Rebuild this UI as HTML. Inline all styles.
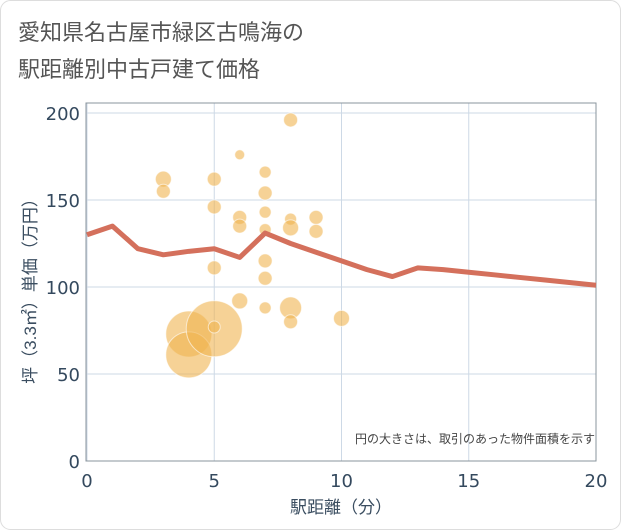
<!DOCTYPE html>
<html><head><meta charset="utf-8"><style>
body{margin:0;background:#fff;}
svg{display:block;font-family:"Liberation Sans","Noto Sans CJK JP",sans-serif;}
</style></head><body>
<svg id="c" width="621" height="530">
<rect x="0.5" y="0.5" width="620" height="529" rx="10" fill="#fff" stroke="#ddd"/>
<text x="18" y="40" font-size="22" fill="#555">愛知県名古屋市緑区古鳴海の</text>
<text x="18" y="77" font-size="22" fill="#555">駅距離別中古戸建て価格</text>
<g id="grid"></g><g id="pts"></g><g id="ln"></g><g id="ax"></g>
<text x="595" y="443" font-size="12" fill="#444" text-anchor="end">円の大きさは、取引のあった物件面積を示す</text>
<text x="341" y="513" font-size="17" fill="#3a4d60" text-anchor="middle">駅距離（分）</text>
<text transform="translate(36,287) rotate(-90)" font-size="17" fill="#3a4d60" text-anchor="middle">坪（3.3㎡）単価（万円）</text>
</svg>
<script>
const xTicks=[0,5,10,15,20];
const yTicks=[0,50,100,150,200];
const ptX=[3,3,5,5,5,4,4,5,5,6,6,6,6,7,7,7,7,7,7,7,8,8,8,8,8,9,9,10];
const ptY=[162,155,162,146,111,73,61,76,77,176,140,135,92,166,154,143,133,115,105,88,196,139,134,88,80,140,132,82];
const ptR=[8,7,7,7,7,23,23,28,6,5,7,7,8,6,7,6,6,7,7,6,7,6,8,11,7,7,7,8];
const lineX=[0,1,2,3,4,5,6,7,8,9,10,11,12,13,14,15,16,17,18,19,20];
const lineY=[130,135,122,118.5,120.5,122,117,131,125,120,115,110,106,111,110,108.5,107,105.5,104,102.5,101];
const X0=87,X1=596,Y0=461,Y1=113;
const sx=v=>X0+(v-0)/20*(X1-X0), sy=v=>Y0-(v/200)*(Y0-Y1);
const NS="http://www.w3.org/2000/svg";
function mk(p,t,a){const e=document.createElementNS(NS,t);for(const k in a)e.setAttribute(k,a[k]);document.getElementById(p).appendChild(e);return e;}
xTicks.forEach(v=>{const g=mk('grid','line',{x1:sx(v),x2:sx(v),y1:Y1-10,y2:Y0,stroke:'#cdd9e6','stroke-width':1});


const t=mk('ax','text',{x:sx(v),y:Y0+26,'font-size':18,fill:'#34495e','text-anchor':'middle','font-family':'"DejaVu Sans",sans-serif'});t.textContent=v;

});
yTicks.forEach(v=>{const g=mk('grid','line',{x1:X0,x2:X1,y1:sy(v),y2:sy(v),stroke:'#cdd9e6','stroke-width':1});


const t=mk('ax','text',{x:X0-7,y:sy(v)+7,'font-size':18,fill:'#34495e','text-anchor':'end','font-family':'"DejaVu Sans",sans-serif'});t.textContent=v;

});
const f=mk('grid','rect',{x:X0-1,y:Y1-10,width:X1-X0+1,height:Y0-Y1+10,fill:'none',stroke:'#8a949c'});


ptX.forEach((v,i)=>{const c=mk('pts','circle',{cx:sx(v),cy:sy(ptY[i]),r:ptR[i],fill:'rgba(240,180,80,0.6)',stroke:'rgba(255,255,255,0.6)','stroke-width':1});

});
const p=mk('ln','polyline',{points:lineX.map((v,i)=>sx(v)+','+sy(lineY[i])).join(' '),fill:'none',stroke:'#d4705c','stroke-width':5,'stroke-linejoin':'round'});


</script>
</body></html>
